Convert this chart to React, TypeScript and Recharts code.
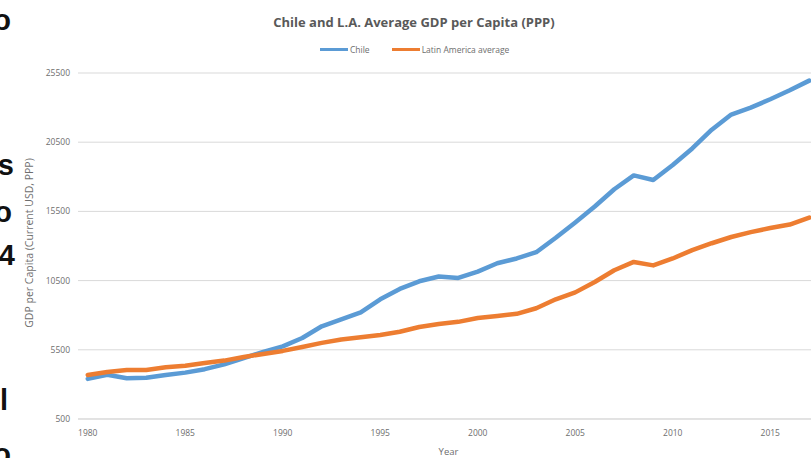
import React from 'react';
import { LineChart, Line, XAxis, YAxis, CartesianGrid, Label } from 'recharts';

const years = [
  1980, 1981, 1982, 1983, 1984, 1985, 1986, 1987, 1988, 1989,
  1990, 1991, 1992, 1993, 1994, 1995, 1996, 1997, 1998, 1999,
  2000, 2001, 2002, 2003, 2004, 2005, 2006, 2007, 2008, 2009,
  2010, 2011, 2012, 2013, 2014, 2015, 2016, 2017,
];
const chileGdp = [
  3400, 3700, 3450, 3480, 3680, 3850, 4100, 4450, 4900, 5350,
  5750, 6350, 7200, 7700, 8200, 9150, 9900, 10450, 10800, 10690,
  11150, 11750, 12100, 12550, 13600, 14700, 15850, 17100, 18100, 17770,
  18850, 20050, 21400, 22500, 23000, 23600, 24250, 24950,
];
const latamGdp = [
  3680, 3900, 4040, 4040, 4240, 4350, 4550, 4720, 4980, 5200,
  5420, 5700, 6000, 6250, 6400, 6570, 6800, 7150, 7360, 7520,
  7800, 7950, 8100, 8500, 9150, 9650, 10400, 11250, 11850, 11600,
  12100, 12700, 13200, 13650, 14000, 14300, 14550, 15050,
];
const yTicks = [500, 5500, 10500, 15500, 20500, 25500];
const xTicks = [1980, 1985, 1990, 1995, 2000, 2005, 2010, 2015];
const seriesNames = ['Chile', 'Latin America average'];
const seriesColors = ['#5B9BD5', '#ED7D31'];
const titleText = 'Chile and L.A. Average GDP per Capita (PPP)';
const yTitle = 'GDP per Capita (Current USD, PPP)';
const xTitle = 'Year';
// fragments of neighbouring page text cut off at the left edge
const edgeGlyphs = ['o', 's', 'o', '4', 'l', 'o'];
const edgeGlyphBaselines = [30, 175, 222, 265, 410, 464];
const edgeGlyphRight = [11, 14, 12, 15, 8, 11];

const data = years.map((year, i) => ({ year, chile: chileGdp[i], latam: latamGdp[i] }));

const FONT = '"Open Sans", "DejaVu Sans", sans-serif';
const TEXT_GRAY = '#6e6e6e';
const GRID = '#d9d9d9';

if (typeof document !== 'undefined') {
  document.body.style.margin = '0';
  document.body.style.overflow = 'hidden';
}

export default function App() {
  return (
    <div
      style={{
        position: 'fixed',
        left: 0,
        top: 0,
        width: 811,
        height: 458,
        overflow: 'hidden',
        background: '#ffffff',
        fontFamily: FONT,
      }}
    >
      <LineChart
        width={830}
        height={458}
        data={data}
        margin={{ top: 73, right: 11, bottom: 0, left: 0 }}
      >
        <CartesianGrid vertical={false} stroke={GRID} strokeWidth={1} />
        <XAxis
          dataKey="year"
          type="number"
          domain={[1979.5, 2017.5]}
          ticks={xTicks}
          interval={0}
          height={39}
          axisLine={{ stroke: GRID }}
          tickLine={false}
          tickMargin={5}
          tick={{ fill: TEXT_GRAY, fontSize: 8.5, fontFamily: FONT }}
        >
          <Label
            content={(props: any) => {
              const vb = props.viewBox || { x: 78, y: 419, width: 741, height: 39 };
              const cx = vb.x + vb.width / 2;
              return (
                <text x={cx} y={455} textAnchor="middle" fontSize={9.5} fill={TEXT_GRAY} fontFamily={FONT}>
                  {xTitle}
                </text>
              );
            }}
          />
        </XAxis>
        <YAxis
          type="number"
          domain={[500, 25500]}
          ticks={yTicks}
          interval={0}
          width={78}
          axisLine={false}
          tickLine={false}
          tick={{ fill: TEXT_GRAY, fontSize: 8.5, fontFamily: FONT }}
        >
          <Label
            content={(props: any) => {
              const vb = props.viewBox || { x: 0, y: 73, width: 78, height: 346 };
              const cx = 29;
              const cy = vb.y + vb.height / 2 - 3;
              return (
                <text
                  x={cx}
                  y={cy}
                  transform={`rotate(-90 ${cx} ${cy})`}
                  textAnchor="middle"
                  dominantBaseline="central"
                  fontSize={10.5}
                  fill={TEXT_GRAY}
                  fontFamily={FONT}
                >
                  {yTitle}
                </text>
              );
            }}
          />
        </YAxis>
        <Line
          type="linear"
          dataKey="chile"
          name={seriesNames[0]}
          stroke={seriesColors[0]}
          strokeWidth={4.5}
          strokeLinejoin="round"
          strokeLinecap="round"
          dot={false}
          activeDot={false}
          isAnimationActive={false}
        />
        <Line
          type="linear"
          dataKey="latam"
          name={seriesNames[1]}
          stroke={seriesColors[1]}
          strokeWidth={4.5}
          strokeLinejoin="round"
          strokeLinecap="round"
          dot={false}
          activeDot={false}
          isAnimationActive={false}
        />
      </LineChart>

      <div
        style={{
          position: 'absolute',
          left: 0,
          top: 13,
          width: 828,
          textAlign: 'center',
          fontSize: 13,
          lineHeight: '18px',
          fontWeight: 700,
          color: '#595959',
          fontFamily: FONT,
          whiteSpace: 'nowrap',
        }}
      >
        {titleText}
      </div>

      <div
        style={{
          position: 'absolute',
          left: 320,
          top: 42,
          height: 14,
          display: 'flex',
          alignItems: 'center',
          fontSize: 8.5,
          color: TEXT_GRAY,
          fontFamily: FONT,
          whiteSpace: 'nowrap',
        }}
      >
        {seriesNames.map((name, i) => (
          <div key={name} style={{ display: 'flex', alignItems: 'center', marginRight: i === 0 ? 22 : 0 }}>
            <div style={{ width: 28, height: 3, background: seriesColors[i], marginRight: 2 }} />
            <span>{name}</span>
          </div>
        ))}
      </div>

      <svg
        width={811}
        height={458}
        style={{ position: 'absolute', left: 0, top: 0, pointerEvents: 'none' }}
      >
        {edgeGlyphs.map((g, i) => (
          <text
            key={i}
            x={edgeGlyphRight[i]}
            y={edgeGlyphBaselines[i]}
            textAnchor="end"
            fontSize={29}
            fontWeight={700}
            fill="#111111"
            fontFamily='"Liberation Sans", Arial, sans-serif'
          >
            {g}
          </text>
        ))}
      </svg>
    </div>
  );
}
